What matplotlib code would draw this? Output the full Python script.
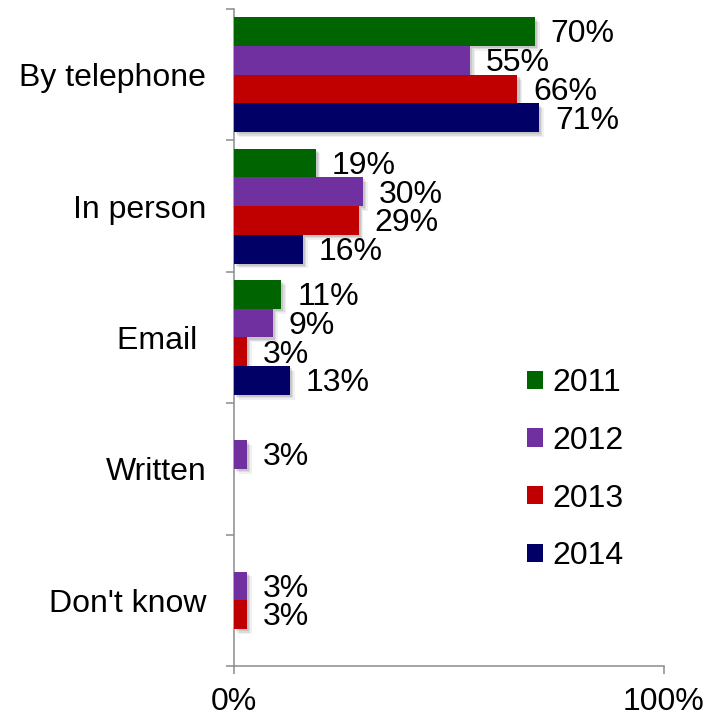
import matplotlib
matplotlib.use("Agg")
import matplotlib.pyplot as plt
import matplotlib.patheffects as pe
from matplotlib.patches import Patch
from matplotlib.ticker import FixedLocator

# Survey data: how people made contact, share of respondents (%)
categories = ["By telephone", "In person", "Email ", "Written", "Don't know"]
years = ["2011", "2012", "2013", "2014"]
v2011 = [70, 19, 11, 0, 0]
v2012 = [55, 30, 9, 3, 3]
v2013 = [66, 29, 3, 0, 3]
v2014 = [71, 16, 13, 0, 0]
series = [v2011, v2012, v2013, v2014]
colors = ["#006400", "#7030A0", "#C00000", "#000066"]
xtick_vals = [0, 100]
xtick_labels = ["0%", "100%"]

plt.rcParams["font.family"] = ["Liberation Sans", "DejaVu Sans"]
FS = 23
AX_GRAY = "#8c8c8c"

fig = plt.figure(figsize=(7.28, 7.18), dpi=100)
ax = fig.add_axes([234 / 728, 52 / 718, (663.5 - 234) / 728, (666 - 9) / 718])

n = len(years)
bar_h = 0.875 / n
shadow = [
    pe.SimplePatchShadow(offset=(3.5, -3.5), shadow_rgbFace="#000000", alpha=0.06),
    pe.SimplePatchShadow(offset=(2.5, -2.5), shadow_rgbFace="#000000", alpha=0.08),
    pe.SimplePatchShadow(offset=(1.5, -1.5), shadow_rgbFace="#000000", alpha=0.10),
    pe.Normal(),
]

for i, (vals, col, yr) in enumerate(zip(series, colors, years)):
    offset = (i - (n - 1) / 2) * bar_h
    ys = [k + offset for k, v in enumerate(vals) if v > 0]
    ws = [v for v in vals if v > 0]
    bars = ax.barh(ys, ws, height=bar_h, color=col, edgecolor="none",
                   label=yr, zorder=3)
    for b in bars:
        b.set_path_effects(shadow)
    for y, w in zip(ys, ws):
        ax.annotate(f"{w}%", xy=(w, y), xytext=(11.5, -2),
                    textcoords="offset points", ha="left", va="center",
                    fontsize=FS, color="black", zorder=4)

ax.set_xlim(0, 100)
ax.set_ylim(len(categories) - 0.5, -0.5)

# category labels at band centres, tick marks at band boundaries
ax.set_yticks(range(len(categories)))
ax.set_yticklabels(categories, fontsize=FS)
ax.tick_params(axis="y", which="major", length=0, pad=20)
ax.yaxis.set_minor_locator(FixedLocator([k - 0.5 for k in range(len(categories) + 1)]))
ax.tick_params(axis="y", which="minor", length=6, width=1.1, color=AX_GRAY,
               direction="out")

ax.set_xticks(xtick_vals)
ax.set_xticklabels(xtick_labels, fontsize=FS)
ax.tick_params(axis="x", which="major", length=6, width=1.1, color=AX_GRAY,
               direction="out", pad=9)

for side in ["top", "right"]:
    ax.spines[side].set_visible(False)
for side in ["left", "bottom"]:
    ax.spines[side].set_color(AX_GRAY)
    ax.spines[side].set_linewidth(1.1)

handles = [Patch(facecolor=c, edgecolor="none") for c in colors]
fig.legend(handles, years, loc="upper left",
           bbox_to_anchor=(527 / 728, 1 - 368 / 718), frameon=False,
           fontsize=FS, handlelength=0.5, handleheight=0.5,
           handletextpad=0.28, labelspacing=0.87, borderpad=0,
           borderaxespad=0)

fig.savefig("out.png", dpi=100)
